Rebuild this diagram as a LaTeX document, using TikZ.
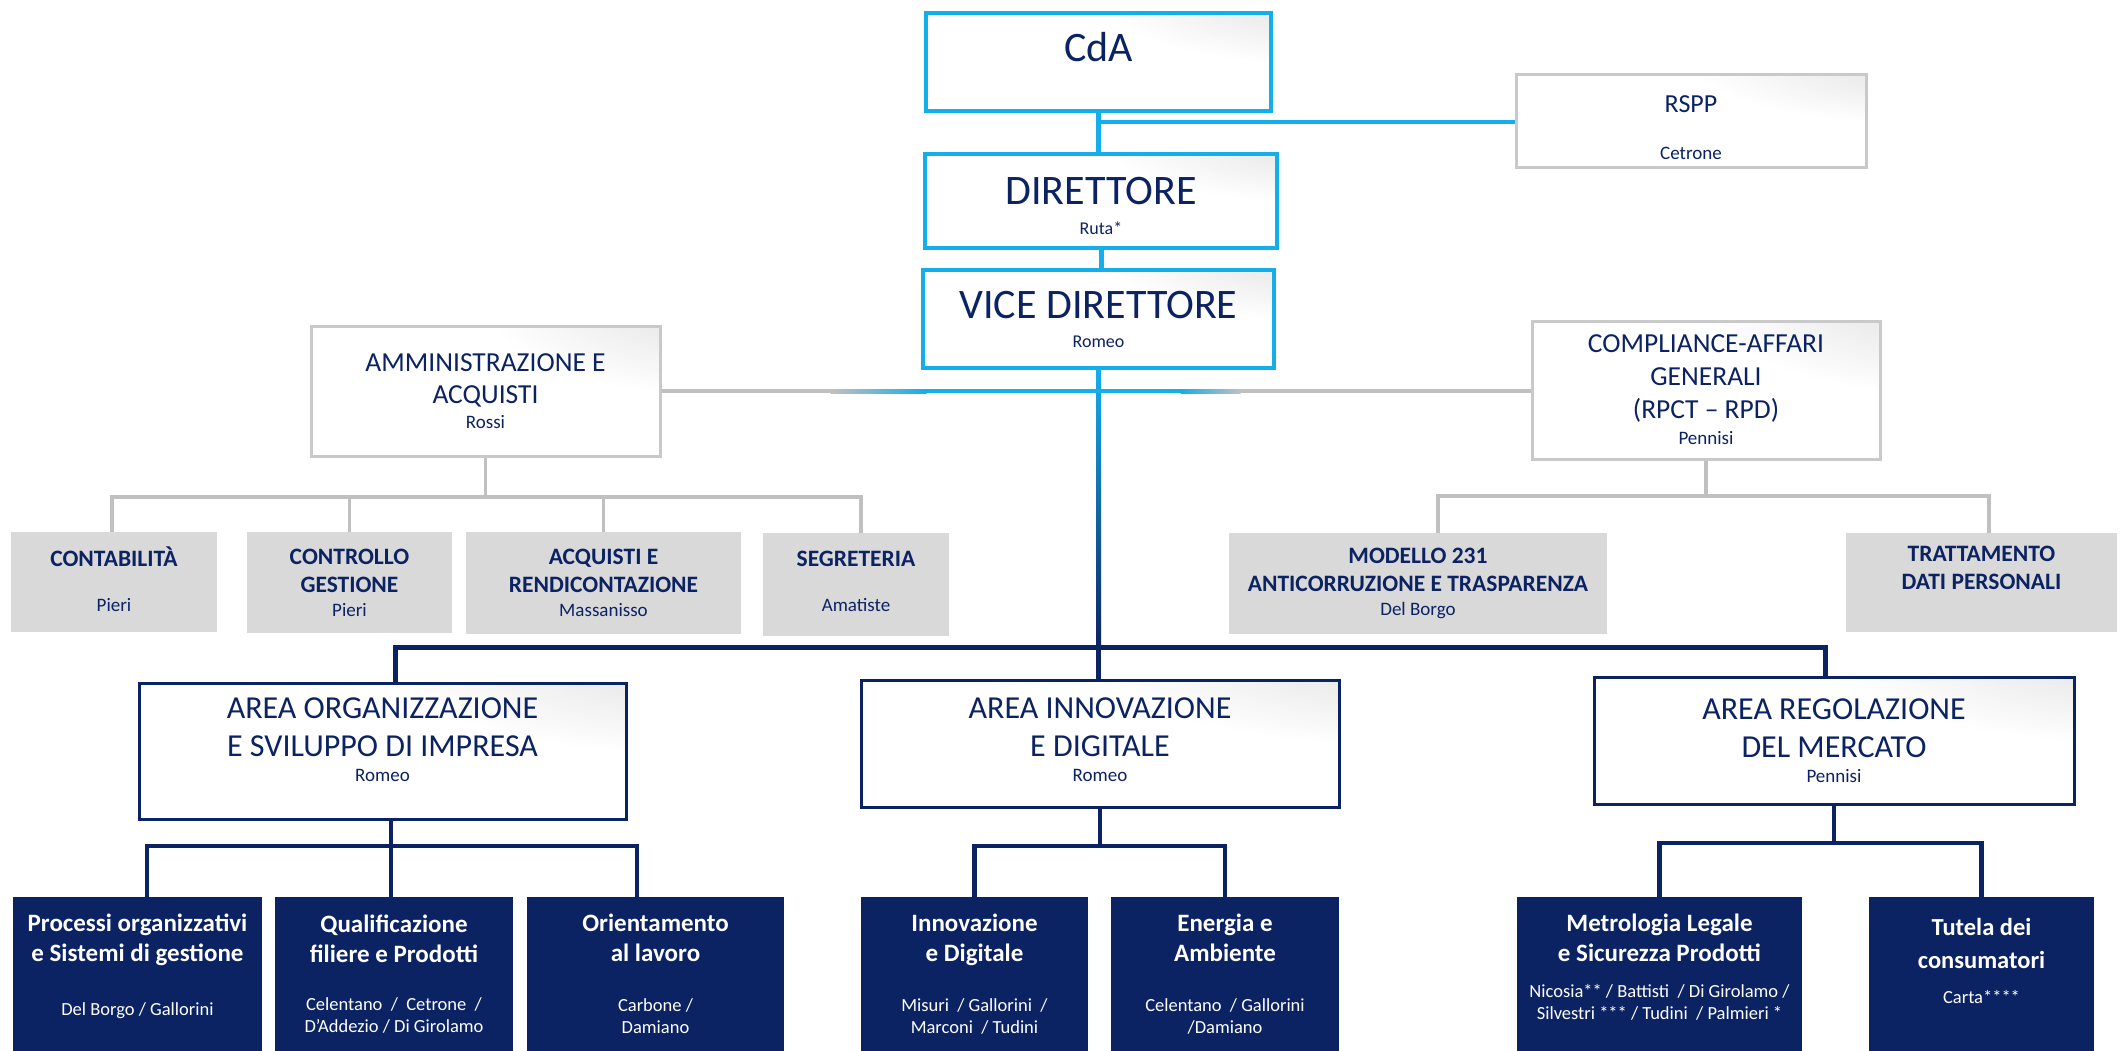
\documentclass[tikz,border=0pt]{standalone}
\usepackage{fontspec}
\setmainfont{Carlito}
\usetikzlibrary{calc}

\definecolor{cdablue}{HTML}{14AEEA}
\definecolor{navy}{HTML}{0B2263}
\definecolor{cellgray}{HTML}{D9D9D9}
\definecolor{linegray}{HTML}{C0C0C0}
\definecolor{framegray}{HTML}{C9C9C9}

\pgfdeclareradialshading{cornerglow}{\pgfpoint{42bp}{40bp}}{color(0bp)=(black!16); color(32bp)=(white); color(140bp)=(white)}

\newcommand\fsz[2]{\fontsize{#1}{#2}\selectfont}
\newcommand\officewho{\fsz{19}{22}\mdseries}
\newcommand\unitwho{\fsz{18.5}{22}\mdseries}

\begin{document}
\begin{tikzpicture}[x=1pt,y=-1pt]
	\tikzset{glow/.style={shade, shading=cornerglow},
		topbox/.style={draw=cdablue, line width=3.5pt, glow, text=navy, align=center, inner sep=0pt, font=\fsz{42}{48}},
		staffbox/.style={draw=framegray, line width=3pt, glow, text=navy, align=center, inner sep=0pt, font=\fsz{27.5}{33}},
		officebox/.style={fill=cellgray, text=navy, align=center, inner sep=0pt, font=\fsz{23.5}{28}\bfseries},
		areabox/.style={draw=navy, line width=3pt, glow, text=navy, align=center, inner sep=0pt, font=\fsz{32}{38}},
		unitbox/.style={fill=navy, text=white, align=center, inner sep=0pt, minimum height=154, font=\fsz{25}{30}\bfseries},
		bluelink/.style={draw=cdablue, line width=5pt},
		graylink/.style={draw=linegray, line width=3.5pt},
		navylink/.style={draw=navy, line width=4.5pt}}
	\useasboundingbox[fill=white] (0,0) rectangle (2120,1051);
	% vertice
	\node[topbox, minimum width=345, minimum height=98] (cda) at (1098.5,62) {CdA\\[-18pt]\mbox{}};
	\node[topbox, minimum width=352, minimum height=94] (dir) at (1101,201) {\mbox{}\\[-11pt]DIRETTORE\\[-18pt]{\fsz{18}{22}Ruta*}};
	\node[topbox, minimum width=351, minimum height=98] (vice) at (1098.5,319) {VICE DIRETTORE\\[-19pt]{\fsz{18}{22}Romeo}};
	\node[staffbox, minimum width=350, minimum height=93, font=\fsz{26}{33}] (rspp) at (1691,121.5) {\mbox{}\\[-4pt]RSPP\\[14pt]{\fsz{19}{23}Cetrone}};
	% staff
	\node[staffbox, minimum width=349, minimum height=130, font=\fsz{27.5}{32}] (amm) at (485.5,391) {AMMINISTRAZIONE E\\ACQUISTI\\[-7pt]{\fsz{19}{23}Rossi}};
	\node[staffbox, minimum width=348, minimum height=138] (comp) at (1706,390) {COMPLIANCE-AFFARI\\GENERALI\\(RPCT – RPD)\\[-7pt]{\fsz{19}{23}Pennisi}};
	\node[officebox, minimum width=206, minimum height=100] (conta) at (114,582) {CONTABILITÀ\\[17pt]{\officewho Pieri}\\[-22pt]\mbox{}};
	\node[officebox, minimum width=205, minimum height=101] (contr) at (349.5,582.5) {CONTROLLO\\GESTIONE\\[-4pt]{\officewho Pieri}};
	\node[officebox, minimum width=275, minimum height=102] (acqu) at (603.5,583) {ACQUISTI E\\RENDICONTAZIONE\\[-4pt]{\officewho Massanisso}};
	\node[officebox, minimum width=186, minimum height=103] (segr) at (856,584.5) {SEGRETERIA\\[17pt]{\officewho Amatiste}\\[-22pt]\mbox{}};
	\node[officebox, minimum width=378, minimum height=101] (mod) at (1418,583.5) {MODELLO 231\\ANTICORRUZIONE E TRASPARENZA\\[-4pt]{\officewho Del Borgo}};
	\node[officebox, minimum width=271, minimum height=99] (tratt) at (1981.5,582.5) {TRATTAMENTO\\DATI PERSONALI\\[2pt]\mbox{}};
	% aree
	\node[areabox, minimum width=487, minimum height=136] (org) at (382.5,751) {AREA ORGANIZZAZIONE\\E SVILUPPO DI IMPRESA\\[-13pt]{\fsz{19}{22}Romeo}\\[-15pt]\mbox{}};
	\node[areabox, minimum width=478, minimum height=127] (innov) at (1100,743.5) {AREA INNOVAZIONE\\E DIGITALE\\[-13pt]{\fsz{19}{22}Romeo}\\[-30pt]\mbox{}};
	\node[areabox, minimum width=480, minimum height=127] (reg) at (1834,740.5) {AREA REGOLAZIONE\\DEL MERCATO\\[-13pt]{\fsz{19}{22}Pennisi}};
	% servizi
	\node[unitbox, minimum width=249] (proc) at (137.5,974) {Processi organizzativi\\e Sistemi di gestione\\[24pt]{\unitwho Del Borgo / Gallorini}\\[-11pt]\mbox{}};
	\node[unitbox, minimum width=238] (qual) at (394,974) {Qualificazione\\filiere e Prodotti\\[18pt]{\unitwho Celentano~ /~ Cetrone~ /}\\[-8pt]{\unitwho D’Addezio / Di Girolamo}};
	\node[unitbox, minimum width=257] (orie) at (655.5,974) {Orientamento\\al lavoro\\[20pt]{\unitwho Carbone /}\\[-8pt]{\unitwho Damiano}};
	\node[unitbox, minimum width=227] (inno) at (974.5,974) {Innovazione\\e Digitale\\[20pt]{\unitwho Misuri~ / Gallorini~ /}\\[-8pt]{\unitwho Marconi~ / Tudini}};
	\node[unitbox, minimum width=228] (ener) at (1225,974) {Energia e\\Ambiente\\[20pt]{\unitwho Celentano~ / Gallorini}\\[-8pt]{\unitwho /Damiano}};
	\node[unitbox, minimum width=285] (metr) at (1659.5,974) {Metrologia Legale\\e Sicurezza Prodotti\\[6pt]{\unitwho Nicosia** / Battisti~ / Di Girolamo /}\\[-8pt]{\unitwho Silvestri *** / Tudini~ / Palmieri *}\\[-15pt]\mbox{}};
	\node[unitbox, minimum width=225, font=\fsz{24.5}{33}\bfseries] (tute) at (1981.5,974) {Tutela dei\\consumatori\\[2pt]{\unitwho Carta****}\\[-6pt]\mbox{}};
	% linee di vertice
	\draw[bluelink] (cda.south) -- (cda.south |- dir.north);
	\coordinate (rsppjoin) at (1098.5,122);
	\draw[bluelink, line width=4pt] (rsppjoin) -- (rsppjoin -| rspp.west);
	\draw[bluelink] (dir.south) -- (dir.south |- vice.north);
	\coordinate (areabus) at (1098.5,647);
	\shade[top color=cdablue, bottom color=navy] ($(vice.south)+(-2.5,0)$) rectangle ($(areabus)+(2.5,0)$);
	\draw[navylink] (areabus) -- (areabus |- innov.north);
	% staff
	\draw[graylink] (amm.east) -- (amm.east -| comp.west);
	\coordinate (staffmid) at (amm.east -| vice.south);
	\shade[left color=linegray, right color=cdablue] ($(staffmid)+(-268,-2)$) rectangle ($(staffmid)+(-172,2)$);
	\draw[cdablue, line width=4pt] ($(staffmid)+(-173,0)$) -- ($(staffmid)+(83,0)$);
	\shade[left color=cdablue, right color=linegray] ($(staffmid)+(82,-2)$) rectangle ($(staffmid)+(142,2)$);
	\coordinate (ammjoin) at (485.5,497);
	\coordinate (ammW) at (112,497);
	\coordinate (ammE) at (861,497);
	\draw[graylink] (amm.south) -- (ammjoin);
	\draw[graylink] (conta.north -| ammW) -- (ammW) -- (ammE) -- (segr.north -| ammE);
	\draw[graylink] (contr.north) -- (contr.north |- ammjoin);
	\draw[graylink] (acqu.north) -- (acqu.north |- ammjoin);
	\coordinate (compjoin) at (1706,496);
	\coordinate (compW) at (1438,496);
	\coordinate (compE) at (1989,496);
	\draw[graylink] (comp.south) -- (compjoin);
	\draw[graylink] (mod.north -| compW) -- (compW) -- (compE) -- (tratt.north -| compE);
	% aree
	\coordinate (busW) at (395,647);
	\coordinate (busE) at (1825,647);
	\draw[navylink, line width=5pt] (org.north -| busW) -- (busW) -- (busE) -- (reg.north -| busE);
	\coordinate (orgjoin) at (391,846);
	\coordinate (orgW) at (147,846);
	\coordinate (orgE) at (637,846);
	\draw[navylink] (org.south -| orgjoin) -- (orgjoin);
	\draw[navylink] (proc.north -| orgW) -- (orgW) -- (orgE) -- (orie.north -| orgE);
	\draw[navylink] (orgjoin) -- (qual.north -| orgjoin);
	\coordinate (innjoin) at (1100,846);
	\draw[navylink] (innov.south) -- (innjoin);
	\draw[navylink] (inno.north) -- (inno.north |- innjoin) -- (ener.north |- innjoin) -- (ener.north);
	\coordinate (regjoin) at (1834,843);
	\draw[navylink] (reg.south) -- (regjoin);
	\draw[navylink] (metr.north) -- (metr.north |- regjoin) -- (tute.north |- regjoin) -- (tute.north);
\end{tikzpicture}
\end{document}
